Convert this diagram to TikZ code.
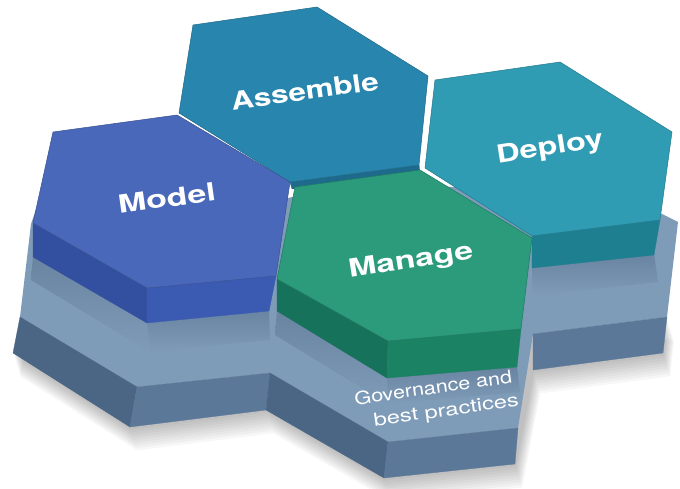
\documentclass[tikz,border=0pt]{standalone}
\usepackage{fontspec}
\setmainfont{TeX Gyre Heros}
\definecolor{asmtop}{HTML}{2886AE}
\definecolor{asmside}{HTML}{1E6A8C}
\definecolor{deptop}{HTML}{2F9CB3}
\definecolor{depside}{HTML}{1D7F90}
\definecolor{modtop}{HTML}{4A68BA}
\definecolor{modsideL}{HTML}{3350A0}
\definecolor{modsideF}{HTML}{3B5BB3}
\definecolor{mantop}{HTML}{2B9B7C}
\definecolor{mansideL}{HTML}{16725A}
\definecolor{mansideF}{HTML}{1B8264}
\definecolor{govtop}{HTML}{7E9BB8}
\definecolor{govshade}{HTML}{6984A1}
\definecolor{govsideL}{HTML}{4B6684}
\definecolor{govsideF}{HTML}{5B7898}
\begin{document}
\begin{tikzpicture}[x=1pt,y=-1pt,
  topface/.style={fill=#1, draw=#1!78!black, line width=0.5pt, line join=round},
  sideface/.style={fill=#1, draw=#1, line width=0.3pt, line join=round},
  biglabel/.style={text=white, font=\fontsize{25}{25}\selectfont\bfseries\addfontfeatures{FakeStretch=#1}, inner sep=0pt, anchor=base},
  smalllabel/.style={text=white, font=\fontsize{18}{18}\selectfont\addfontfeatures{FakeStretch=#1}, inner sep=0pt, anchor=base}]
\useasboundingbox (0,0) rectangle (680,489);
% soft shadow under the base
\foreach \i in {1,...,9}
  \fill[black, opacity=0.03, shift={(0.8*\i,2.6*\i)}]
    (13,353) -- (130,427) -- (266,410) -- (384,478) -- (515,464) -- (533,370)
    -- (663,353) -- (667,317) -- (20,317) -- cycle;
% governance base: top face
\fill[govtop] (20,317) -- (137,387) -- (270,373) -- (388,442) -- (518,428) -- (533,334)
  -- (667,317) -- (678,222) -- (658,212) -- (600,200) -- (430,185) -- (300,195)
  -- (280,200) -- (200,150) -- (60,140) -- (31,224) -- cycle;
% shadows cast on the base
\shade[top color=govshade, bottom color=govtop] (147,322) -- (269,310) -- (270,340) -- (150,352) -- cycle;
\shade[top color=govshade, bottom color=govtop] (33,256) -- (147,322) -- (150,352) -- (31,280) -- cycle;
\shade[top color=govshade, bottom color=govtop] (387,377) -- (517,366) -- (520,392) -- (388,404) -- cycle;
\shade[top color=govshade, bottom color=govtop] (277,310) -- (387,377) -- (388,404) -- (275,335) -- cycle;
\shade[top color=govshade, bottom color=govtop] (532,267) -- (654,254) -- (658,282) -- (533,296) -- cycle;
% governance base: side faces
\path[sideface=govsideL] (20,317) -- (137,387) -- (130,427) -- (13,353) -- cycle;
\path[sideface=govsideF] (137,387) -- (270,373) -- (266,410) -- (130,427) -- cycle;
\path[sideface=govsideL] (270,373) -- (388,442) -- (384,478) -- (266,410) -- cycle;
\path[sideface=govsideF] (388,442) -- (518,428) -- (515,464) -- (384,478) -- cycle;
\path[sideface=govsideF] (533,334) -- (667,317) -- (663,353) -- (533,370) -- cycle;
% Assemble
\path[sideface=asmside] (290,182) -- (419,165) -- (420,172) -- (292,189) -- cycle;
\path[topface=asmtop] (193,25) -- (317,7) -- (428,76) -- (419,165) -- (290,182) -- (179,113) -- cycle;
% Deploy
\path[sideface=depside] (532,236) -- (660,220) -- (654,255) -- (532,268) -- cycle;
\path[topface=deptop] (435,80) -- (560,62) -- (672,132) -- (660,220) -- (532,236) -- (425,168) -- cycle;
% Model
\path[sideface=modsideL] (33,223) -- (147,288) -- (147,323) -- (33,257) -- cycle;
\path[sideface=modsideF] (147,288) -- (276,276) -- (269,311) -- (147,323) -- cycle;
\path[topface=modtop] (53,132) -- (177,115) -- (290,182) -- (276,276) -- (147,288) -- (33,223) -- cycle;
% Manage
\path[sideface=mansideL] (277,279) -- (388,341) -- (387,378) -- (277,311) -- cycle;
\path[sideface=mansideF] (388,341) -- (521,329) -- (517,367) -- (387,378) -- cycle;
\path[topface=mantop] (295,187) -- (420,170) -- (532,238) -- (521,329) -- (388,341) -- (277,279) -- cycle;
% labels
\node[biglabel=1.26, rotate=8] (assemble) at (306,100) {Assemble};
\node[biglabel=1.36, rotate=8] (model) at (168,207) {Model};
\node[biglabel=1.3, rotate=9] (deploy) at (551,155) {Deploy};
\node[biglabel=1.35, rotate=9] (manage) at (412,268) {Manage};
\node[smalllabel=1.2, rotate=8] (gov1) at (434,394) {Governance and};
\node[smalllabel=1.32, rotate=8] (gov2) at (447,416) {best practices};
\end{tikzpicture}
\end{document}
